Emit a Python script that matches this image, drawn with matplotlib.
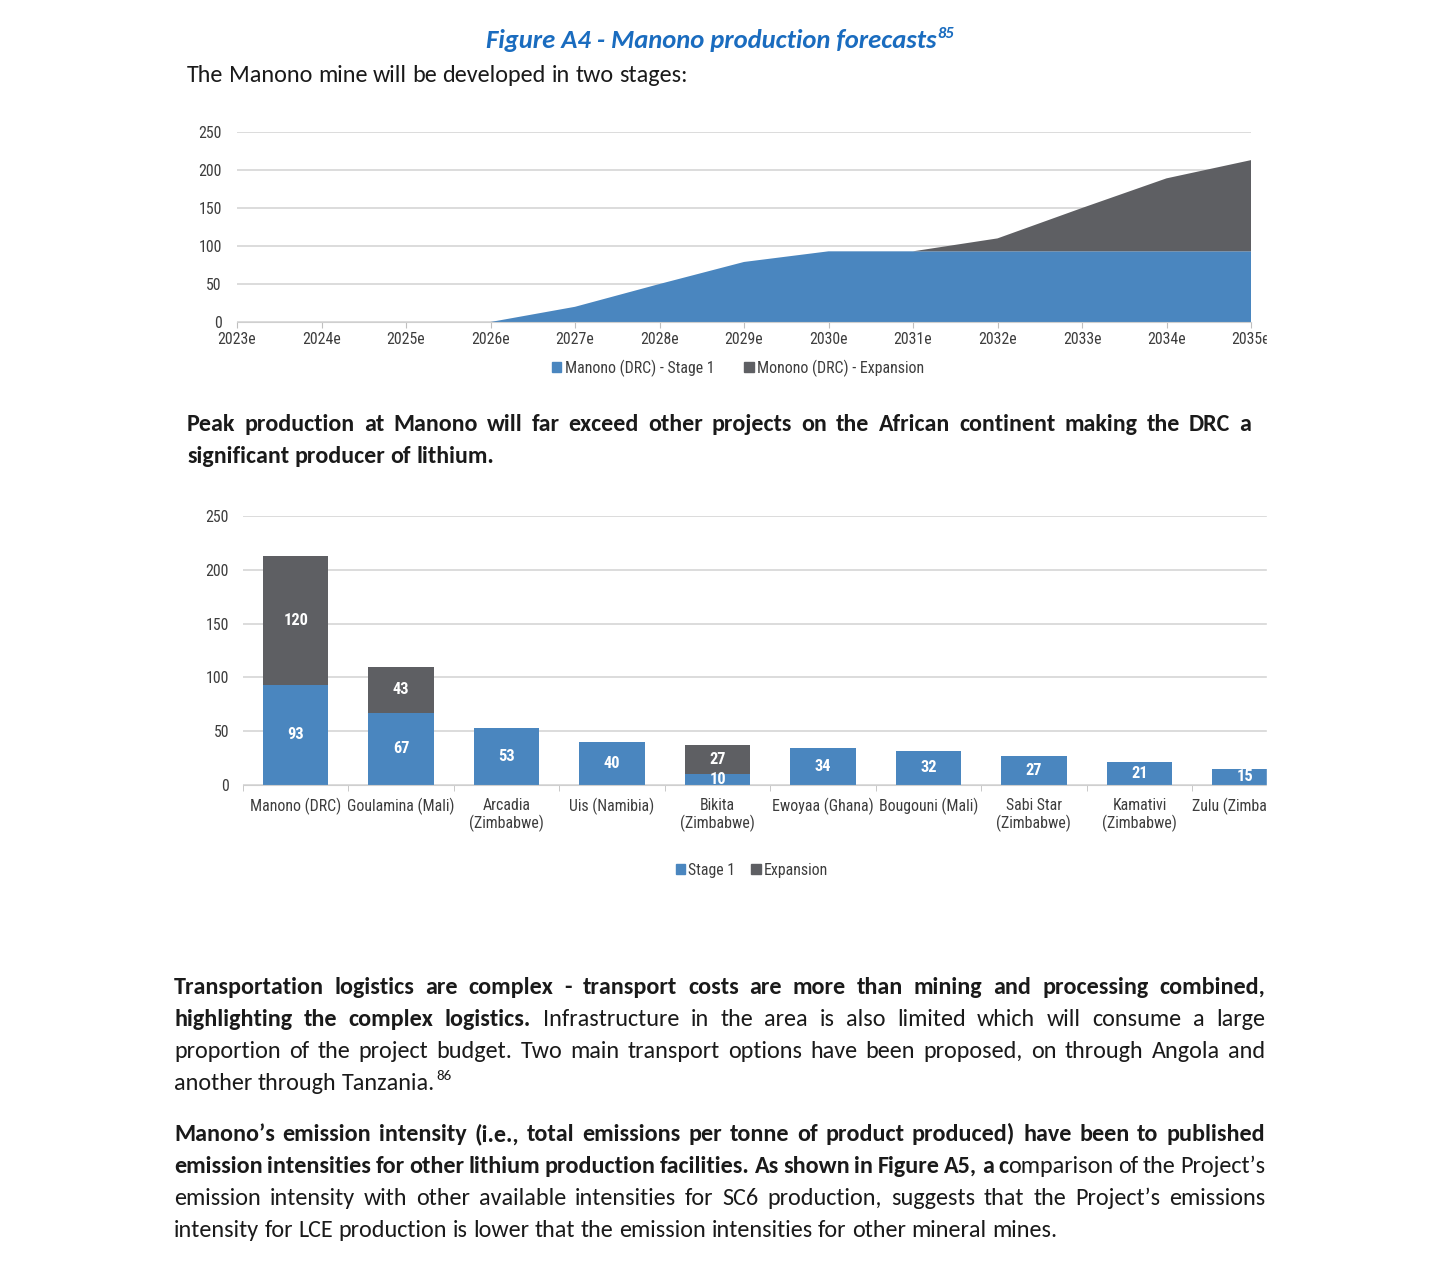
import numpy as np
import matplotlib
matplotlib.use('Agg')
import matplotlib.pyplot as plt
from matplotlib.patches import Patch, Rectangle
from matplotlib import font_manager as fm

W, H = 1434, 1267

# top chart: Manono production forecast (kt)
years = ['2023e', '2024e', '2025e', '2026e', '2027e', '2028e', '2029e',
         '2030e', '2031e', '2032e', '2033e', '2034e', '2035e']
stage1 = [0, 0, 0, 0, 20, 50, 79, 93, 93, 93, 93, 93, 93]
expansion = [0, 0, 0, 0, 0, 0, 0, 0, 0, 17, 57, 96, 120]
top_legend = ['Manono (DRC) - Stage 1', 'Monono (DRC) - Expansion']

# bottom chart: peak production by project
projects = ['Manono (DRC)', 'Goulamina (Mali)', 'Arcadia\n(Zimbabwe)', 'Uis (Namibia)',
            'Bikita\n(Zimbabwe)', 'Ewoyaa (Ghana)', 'Bougouni (Mali)',
            'Sabi Star\n(Zimbabwe)', 'Kamativi\n(Zimbabwe)', 'Zulu (Zimbabwe)']
proj_stage1 = [93, 67, 53, 40, 10, 34, 32, 27, 21, 15]
proj_expansion = [120, 43, 0, 0, 27, 0, 0, 0, 0, 0]
bottom_legend = ['Stage 1', 'Expansion']

BLUE = '#4A86BF'
GREY = '#5E5F63'
GRID = '#d9d9d9'
LBL = '#3d3d3d'
TXT = '#1a1a1a'
TITLE_BLUE = '#1a6cbf'


def pick(*names):
    avail = {f.name for f in fm.fontManager.ttflist}
    for n in names:
        if n in avail:
            return n
    return 'DejaVu Sans'


CHART = pick('Liberation Sans Narrow', 'Roboto Condensed', 'Liberation Sans')
BODY = pick('Carlito', 'Lato', 'Open Sans')

fig = plt.figure(figsize=(W / 100, H / 100), dpi=100)
renderer = fig.canvas.get_renderer()


def measure(s, size, weight='normal', style='normal', family=BODY):
    t = fig.text(0, 0, s, fontsize=size, fontweight=weight, fontstyle=style, family=family)
    w = t.get_window_extent(renderer).width
    t.remove()
    return w


def axes_px(l, t, r, b):
    return fig.add_axes([l / W, 1 - b / H, (r - l) / W, (b - t) / H])


# chart font sizes calibrated on the reference widths
cs = 11 * 91 / measure('Manono (DRC)', 11, family=CHART)
vs = 11 * 25 / measure('120', 11, weight='bold', family=CHART)

# ---- top chart ----
ax1 = axes_px(237, 132, 1251, 322)
x = np.arange(len(years))
ax1.stackplot(x, stage1, expansion, colors=[BLUE, GREY], linewidth=0)
ax1.set_yticks(np.arange(0, 251, 50))
ax1.set_xticks(x, years)
ax1.set_xlim(0, len(years) - 1)
ax1.set_ylim(0, 250)
ax1.set_axisbelow(True)
ax1.grid(axis='y', color=GRID, lw=1.3)
for s in ['top', 'right', 'left']:
    ax1.spines[s].set_visible(False)
ax1.spines['bottom'].set_color('#cfcfcf')
ax1.tick_params(axis='y', length=0, pad=11, labelsize=cs, labelcolor=LBL)
ax1.tick_params(axis='x', length=4, color='#bfbfbf', pad=3, labelsize=cs, labelcolor=LBL)
for t in ax1.get_xticklabels() + ax1.get_yticklabels():
    t.set_family(CHART)

fig.legend([Patch(color=BLUE), Patch(color=GREY)], top_legend, loc='center',
           bbox_to_anchor=(738 / W, 1 - 368 / H), ncol=2, frameon=False,
           handlelength=0.6, handleheight=0.6, handletextpad=0.2, columnspacing=1.9,
           prop={'family': CHART, 'size': cs}, labelcolor=LBL)

# ---- bottom chart ----
ax2 = axes_px(243, 516, 1267, 785)
xb = np.arange(len(projects))
ax2.bar(xb, proj_stage1, 0.62, color=BLUE)
ax2.bar(xb, proj_expansion, 0.62, bottom=proj_stage1, color=GREY)
for i, (s1, e1) in enumerate(zip(proj_stage1, proj_expansion)):
    if s1:
        ax2.text(i, s1 / 2, str(s1), ha='center', va='center', color='white',
                 fontsize=vs, fontweight='bold', family=CHART)
    if e1:
        ax2.text(i, s1 + e1 / 2, str(e1), ha='center', va='center', color='white',
                 fontsize=vs, fontweight='bold', family=CHART)
ax2.set_yticks(np.arange(0, 251, 50))
ax2.set_xticks(xb, projects)
ax2.set_xticks(np.arange(-0.5, len(projects), 1), minor=True)
ax2.set_xlim(-0.5, 9.21)
ax2.set_ylim(0, 250)
ax2.set_axisbelow(True)
ax2.grid(axis='y', color=GRID, lw=1.3)
for s in ['top', 'right', 'left']:
    ax2.spines[s].set_visible(False)
ax2.spines['bottom'].set_color('#cfcfcf')
ax2.tick_params(axis='y', length=0, pad=10, labelsize=cs, labelcolor=LBL)
ax2.tick_params(axis='x', which='major', length=0, pad=9, labelsize=cs, labelcolor=LBL)
ax2.tick_params(axis='x', which='minor', length=4, color='#bfbfbf')
for t in ax2.get_xticklabels() + ax2.get_yticklabels():
    t.set_family(CHART)
    t.set_linespacing(1.2)

fig.legend([Patch(color=BLUE), Patch(color=GREY)], bottom_legend, loc='center',
           bbox_to_anchor=(752 / W, 1 - 870 / H), ncol=2, frameon=False,
           handlelength=0.6, handleheight=0.6, handletextpad=0.2, columnspacing=1.0,
           prop={'family': CHART, 'size': cs}, labelcolor=LBL)

# hide overflow past the right edge of the charts (as cropped in the source)
for y0, y1 in [(120, 380), (500, 900)]:
    fig.add_artist(Rectangle((1267 / W, 1 - y1 / H), (W - 1267) / W, (y1 - y0) / H,
                             transform=fig.transFigure, color='white', zorder=20))


# ---- text ----
def words_of(segments):
    words = [[]]
    for txt, bold in segments:
        parts = txt.split(' ')
        for k, p in enumerate(parts):
            if k > 0:
                words.append([])
            if p:
                words[-1].append((p, bold))
    return [w for w in words if w]


def draw_line(segments, x0, x1, base, size, justify):
    words = words_of(segments)
    wts = [[measure(p, size, 'bold' if b else 'normal') for p, b in w] for w in words]
    total = sum(sum(w) for w in wts)
    if justify and len(words) > 1:
        gap = (x1 - x0 - total) / (len(words) - 1)
    else:
        gap = measure('a a', size) - measure('aa', size)
    xx = x0
    for w, ws in zip(words, wts):
        for (p, b), pw in zip(w, ws):
            fig.text(xx / W, 1 - base / H, p, fontsize=size, family=BODY,
                     fontweight='bold' if b else 'normal', color=TXT,
                     ha='left', va='baseline')
            xx += pw
        xx += gap
    return xx - gap


# title
title = 'Figure A4 - Manono production forecasts'
ts = 12 * 449 / measure(title, 12, 'bold', 'italic')
fig.text(486 / W, 1 - 48 / H, title, fontsize=ts, fontweight='bold', fontstyle='italic',
         family=BODY, color=TITLE_BLUE, ha='left', va='baseline')
fig.text(937 / W, 1 - 38 / H, '85', fontsize=ts * 0.62, fontweight='bold', fontstyle='italic',
         family=BODY, color=TITLE_BLUE, ha='left', va='baseline')

p1 = 'The Manono mine will be developed in two stages:'
s1 = 12 * 499 / measure(p1, 12)
draw_line([(p1, False)], 187, 686, 82, s1, False)

p2_last = 'significant producer of lithium.'
s2 = 12 * 308 / measure(p2_last, 12, 'bold')
draw_line([('Peak production at Manono will far exceed other projects on the African '
            'continent making the DRC a', True)], 187, 1251, 431, s2, True)
draw_line([(p2_last, True)], 187, 1251, 463, s2, False)

p4_last = 'intensity for LCE production is lower that the emission intensities for other mineral mines.'
s4 = 12 * 882 / measure(p4_last, 12)

L, R = 174, 1265
draw_line([('Transportation logistics are complex - transport costs are more than mining '
            'and processing combined,', True)], L, R, 994, s4, True)
draw_line([('highlighting the complex logistics.', True),
           (' Infrastructure in the area is also limited which will consume a large', False)],
          L, R, 1026, s4, True)
draw_line([('proportion of the project budget.  Two main transport options have been '
            'proposed, on through Angola and', False)], L, R, 1058, s4, True)
end = draw_line([('another through Tanzania.', False)], L, R, 1090, s4, False)
fig.text((end + 1) / W, 1 - 1080 / H, '86', fontsize=s4 * 0.62, family=BODY, color=TXT,
         ha='left', va='baseline')

draw_line([('Manono\u2019s emission intensity (i.e., total emissions per tonne of product '
            'produced) have been to published', True)], L, R, 1141, s4, True)
draw_line([('emission intensities for other lithium production facilities. As shown in '
            'Figure A5, a c', True),
           ('omparison of the Project\u2019s', False)], L, R, 1173, s4, True)
draw_line([('emission intensity with other available intensities for SC6 production, '
            'suggests that the Project\u2019s emissions', False)], L, R, 1205, s4, True)
draw_line([(p4_last, False)], L, R, 1237, s4, False)

fig.savefig('out.png', dpi=100, facecolor='white')
